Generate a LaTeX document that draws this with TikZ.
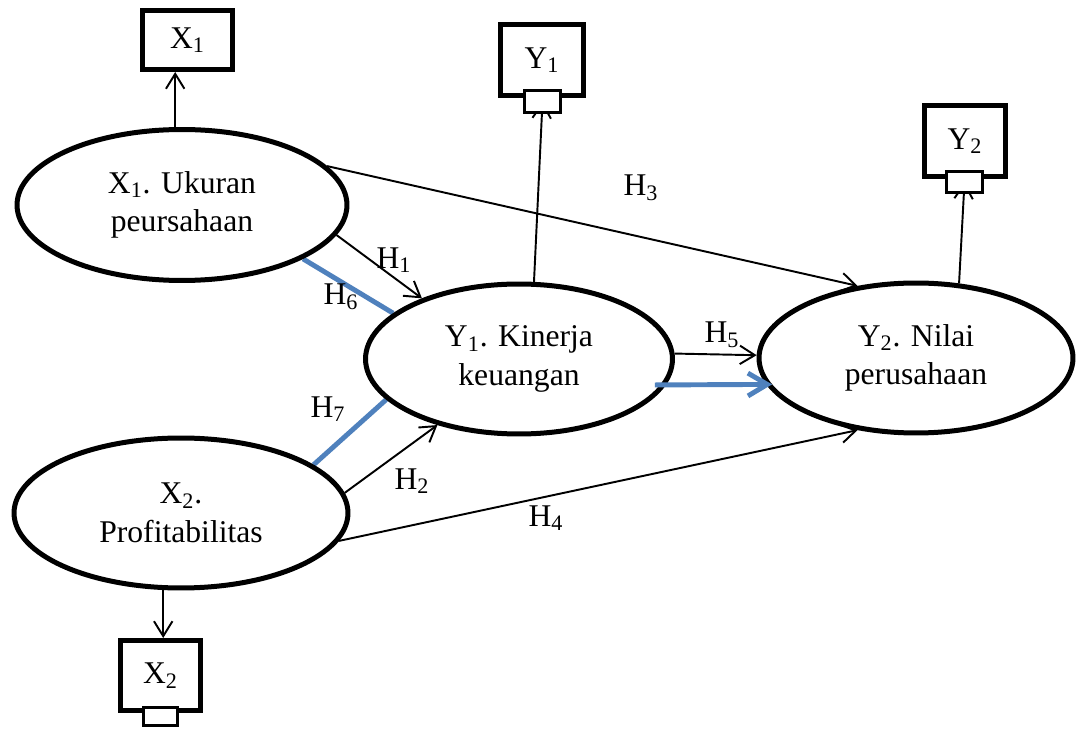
\documentclass[tikz,border=0pt]{standalone}
\usepackage{fontspec}
\setmainfont{Liberation Serif}
\usetikzlibrary{shapes.geometric,arrows.meta,backgrounds}
\definecolor{hblue}{RGB}{79,129,189}

\begin{document}
\begin{tikzpicture}[x=0.02cm,y=-0.02cm,
    font=\fontsize{18}{22}\selectfont,
    >={Straight Barb[length=8.5pt,width=10.5pt]}]

      \useasboundingbox (0,0) rectangle (1076,729);

      \begin{scope}[every node/.style={ellipse,draw,line width=0.1cm,fill=white,align=center,inner sep=0pt,minimum height=3cm}]
        \node[minimum width=6.6cm,minimum height=3.02cm] (x1) at (182,205) {X\textsubscript{1}. Ukuran\\peursahaan};
        \node[minimum width=6.14cm] (y1) at (519,359) {Y\textsubscript{1}. Kinerja\\keuangan};
        \node[minimum width=6.28cm] (y2) at (916,358) {Y\textsubscript{2}. Nilai\\perusahaan};
        \node[minimum width=6.68cm] (x2) at (181,513) {X\textsubscript{2}.\\Profitabilitas};
      \end{scope}

      \begin{scope}[every node/.style={rectangle,draw,line width=0.1cm,fill=white,inner sep=0pt}]
        \node[minimum width=1.8cm,minimum height=1.18cm] (x1b) at (187.5,40) {X\textsubscript{1}};
        \node[minimum width=1.66cm,minimum height=1.42cm] (y1b) at (542,60) {Y\textsubscript{1}};
        \node[minimum width=1.62cm,minimum height=1.42cm] (y2b) at (965,141) {Y\textsubscript{2}};
        \node[minimum width=1.6cm,minimum height=1.4cm] (x2b) at (160.5,675.5) {X\textsubscript{2}};
      \end{scope}

      \begin{scope}[every node/.style={rectangle,draw,line width=1.6pt,fill=white,inner sep=0pt}]
        \node[minimum width=0.72cm,minimum height=0.44cm] (y1s) at (542.5,101.5) {};
        \node[minimum width=0.72cm,minimum height=0.42cm] (y2s) at (964.5,182) {};
        \node[minimum width=0.68cm,minimum height=0.36cm] (x2s) at (160.5,716.5) {};
      \end{scope}

      \begin{scope}[on background layer]
        \begin{scope}[every edge/.style={draw,line width=1.1pt,->}]
          \path (x1.-11)  edge (y1.148);
          \path (x2.7)    edge (y1.219);
          \path (x1.15)   edge (y2.129);
          \path (x2.-10)  edge (y2.231);
          \path (y1.2)    edge (y2.179);
          \path (x1.95)   edge (x1.95 |- x1b.south);
          \path (x2.-103) edge (x2.-103 |- x2b.north);
          \path (y1.79)   edge (y1s.center);
          \path (y2.60)   edge (y2s.center);
        \end{scope}
        \begin{scope}[every edge/.style={draw=hblue,line width=2.8pt}]
          \path (x1.-24) edge (y1.160);
          \path (x2.20)  edge (y1.197);
        \end{scope}
      \end{scope}

      \draw[hblue,line width=2.8pt,-{Straight Barb[length=11pt,width=13pt]},
        shorten <=-0.22cm,shorten >=-0.12cm] (y1.-10) -- (y2.190);

      \node (h1) at (394,260) {H\textsubscript{1}};
      \node (h2) at (412,481) {H\textsubscript{2}};
      \node (h3) at (641,188) {H\textsubscript{3}};
      \node (h4) at (546,518) {H\textsubscript{4}};
      \node (h5) at (722,335) {H\textsubscript{5}};
      \node (h6) at (341,297) {H\textsubscript{6}};
      \node (h7) at (328,409) {H\textsubscript{7}};

    \end{tikzpicture}
\end{document}
